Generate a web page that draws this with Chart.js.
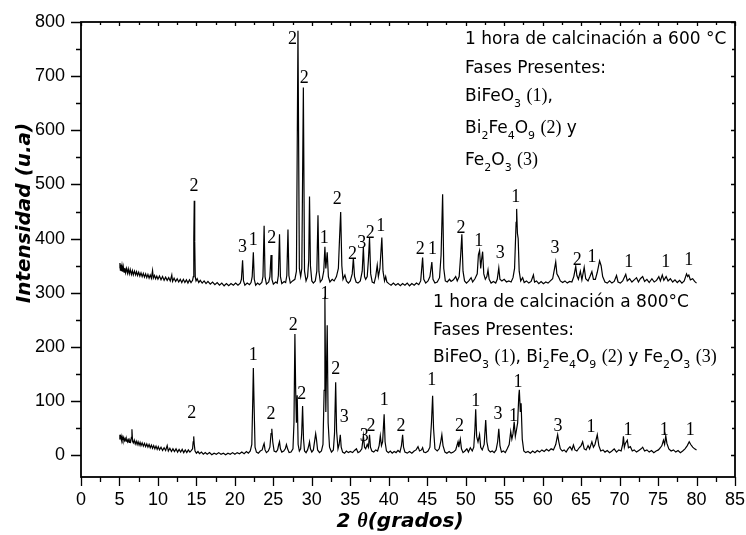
<!DOCTYPE html>
<html>
<head>
<meta charset="utf-8">
<script src="https://cdn.jsdelivr.net/npm/chart.js@4.4.1/dist/chart.umd.min.js"></script>
<style>
  html, body { margin: 0; padding: 0; background: #fff; }
  #wrap { width: 746px; height: 535px; }
</style>
</head>
<body>
<div id="wrap"><canvas id="xrd" width="746" height="535"></canvas></div>
<script>
// Tick values of both axes
const thetaTicks = [0, 5, 10, 15, 20, 25, 30, 35, 40, 45, 50, 55, 60, 65, 70, 75, 80, 85];
const intensityTicks = [0, 100, 200, 300, 400, 500, 600, 700, 800];

// Diffractogram, 1 h calcination at 600 °C: [2θ (deg), intensity (a.u.)]
const scan600 = [
  [5.00,346],[5.06,355],[5.12,342],[5.18,352],[5.25,340],[5.33,350],[5.42,339],[5.50,348],[5.60,338],[5.70,346],
  [5.80,337],[5.92,345],[6.05,336],[6.15,344],[6.28,335],[6.40,343],[6.55,334],[6.68,341],[6.80,333],[6.95,340],
  [7.10,333],[7.22,339],[7.35,332],[7.50,338],[7.65,331],[7.80,337],[7.95,330],[8.10,336],[8.25,329],[8.40,335],
  [8.55,328],[8.70,334],[8.85,327],[9.00,333],[9.15,327],[9.30,341],[9.40,327],[9.55,332],[9.70,326],[9.85,331],
  [10.00,325],[10.20,331],[10.40,324],[10.60,330],[10.80,323],[11.00,329],[11.20,323],[11.40,328],[11.60,322],[11.80,333],
  [11.90,321],[12.10,327],[12.30,321],[12.50,326],[12.70,320],[12.90,325],[13.10,319],[13.30,325],[13.50,319],[13.70,324],
  [13.90,318],[14.10,324],[14.30,319],[14.50,323],[14.60,330],[14.66,400],[14.72,470],[14.78,395],[14.85,330],[14.95,322],
  [15.10,326],[15.30,319],[15.50,323],[15.75,318],[16.00,322],[16.25,317],[16.50,321],[16.80,316],[17.10,320],[17.40,315],
  [17.70,319],[18.00,314],[18.30,318],[18.60,313],[18.90,317],[19.20,313],[19.50,317],[19.80,314],[20.10,318],[20.40,314],
  [20.70,318],[20.85,325],[21.00,360],[21.12,322],[21.30,314],[21.60,318],[21.90,315],[22.10,319],[22.25,330],[22.40,375],
  [22.52,325],[22.70,314],[22.95,318],[23.20,315],[23.50,319],[23.65,330],[23.80,424],[23.92,330],[24.10,316],[24.40,320],
  [24.55,330],[24.70,370],[24.82,325],[25.00,316],[25.30,320],[25.50,318],[25.65,332],[25.80,408],[25.92,330],[26.10,317],
  [26.40,321],[26.60,319],[26.75,332],[26.90,417],[27.02,332],[27.20,318],[27.50,322],[27.80,325],[28.00,340],[28.20,784],
  [28.38,345],[28.55,330],[28.70,345],[28.90,679],[29.05,340],[29.25,322],[29.45,330],[29.60,360],[29.70,478],[29.82,350],
  [30.00,322],[30.20,318],[30.45,322],[30.65,340],[30.80,443],[30.92,340],[31.10,320],[31.35,325],[31.55,340],[31.70,385],
  [31.82,345],[32.00,375],[32.15,330],[32.35,320],[32.65,325],[32.90,322],[33.20,330],[33.45,345],[33.60,400],[33.75,449],
  [33.90,350],[34.05,325],[34.30,333],[34.50,322],[34.75,318],[35.00,322],[35.25,335],[35.40,364],[35.55,330],[35.75,320],
  [36.00,318],[36.30,322],[36.55,340],[36.70,385],[36.85,330],[37.00,325],[37.20,330],[37.35,360],[37.50,401],[37.65,335],
  [37.85,320],[38.10,318],[38.30,330],[38.50,351],[38.65,330],[38.85,345],[39.10,402],[39.25,340],[39.45,322],[39.60,330],
  [39.75,320],[40.00,317],[40.30,314],[40.60,318],[40.90,314],[41.20,317],[41.50,313],[41.80,317],[42.10,314],[42.40,318],
  [42.70,313],[43.00,317],[43.30,314],[43.60,318],[43.90,315],[44.15,322],[44.40,365],[44.55,325],[44.80,318],[45.10,322],
  [45.35,330],[45.60,357],[45.75,325],[46.00,318],[46.30,320],[46.60,328],[46.80,370],[47.00,482],[47.15,345],[47.35,322],
  [47.60,320],[47.90,325],[48.10,321],[48.40,324],[48.70,330],[48.90,322],[49.15,330],[49.35,370],[49.50,408],[49.65,340],
  [49.85,322],[50.10,318],[50.40,322],[50.70,328],[50.90,320],[51.20,326],[51.50,335],[51.65,370],[51.80,378],[51.95,345],
  [52.05,360],[52.20,376],[52.35,335],[52.55,325],[52.75,330],[52.90,342],[53.05,325],[53.30,318],[53.60,321],[53.90,318],
  [54.10,325],[54.30,346],[54.45,325],[54.70,322],[55.00,325],[55.30,320],[55.60,322],[55.90,320],[56.15,328],[56.35,345],
  [56.55,430],[56.62,455],[56.72,410],[56.82,400],[56.95,340],[57.15,322],[57.40,328],[57.60,319],[57.90,322],[58.20,318],
  [58.50,321],[58.80,333],[58.95,320],[59.20,322],[59.50,317],[59.80,321],[60.10,317],[60.40,320],[60.70,318],[61.00,322],
  [61.30,326],[61.55,345],[61.70,357],[61.85,335],[62.05,330],[62.30,322],[62.60,319],[62.90,322],[63.20,318],[63.50,321],
  [63.80,320],[64.05,330],[64.30,349],[64.45,332],[64.65,325],[64.90,340],[65.10,324],[65.40,347],[65.60,326],[65.90,322],
  [66.15,330],[66.40,339],[66.60,325],[66.85,325],[67.10,338],[67.40,359],[67.60,350],[67.80,330],[68.10,320],[68.40,318],
  [68.70,322],[69.00,318],[69.30,321],[69.60,332],[69.80,320],[70.10,318],[70.40,322],[70.80,334],[71.00,322],[71.30,326],
  [71.60,320],[71.90,324],[72.20,328],[72.45,320],[72.70,326],[73.00,330],[73.25,321],[73.55,325],[73.85,319],[74.20,326],
  [74.50,320],[74.80,323],[75.10,330],[75.30,322],[75.55,333],[75.75,323],[76.05,330],[76.30,322],[76.60,326],[76.90,320],
  [77.20,324],[77.50,319],[77.80,323],[78.10,318],[78.40,322],[78.70,335],[78.85,330],[79.00,333],[79.20,324],[79.50,326],
  [79.75,321],[80.00,318]
];

// Diffractogram, 1 h calcination at 800 °C: [2θ (deg), intensity (a.u.)]
const scan800 = [
  [5.00,30],[5.05,38],[5.12,32],[5.20,36],[5.28,29],[5.36,34],[5.45,28],[5.55,33],[5.65,27],[5.75,31],
  [5.85,26],[5.95,30],[6.05,25],[6.15,29],[6.25,24],[6.35,28],[6.45,25],[6.55,33],[6.62,48],[6.70,26],
  [6.80,23],[6.92,28],[7.05,21],[7.18,26],[7.30,20],[7.42,25],[7.55,19],[7.68,24],[7.80,18],[7.95,23],
  [8.10,17],[8.25,22],[8.40,16],[8.55,21],[8.70,15],[8.85,20],[9.00,14],[9.15,19],[9.30,13],[9.45,18],
  [9.60,12],[9.75,17],[9.90,11],[10.05,16],[10.20,10],[10.40,15],[10.60,9],[10.80,14],[11.00,9],[11.20,18],
  [11.35,8],[11.55,13],[11.75,7],[11.95,12],[12.15,7],[12.35,12],[12.55,6],[12.75,11],[12.95,6],[13.15,11],
  [13.35,5],[13.55,10],[13.75,5],[13.95,10],[14.15,6],[14.35,9],[14.50,12],[14.58,25],[14.65,35],[14.72,20],
  [14.82,8],[15.00,4],[15.20,7],[15.40,3],[15.65,6],[15.90,2],[16.15,5],[16.40,2],[16.70,5],[17.00,1],
  [17.30,4],[17.60,2],[17.90,5],[18.20,2],[18.50,4],[18.80,1],[19.10,4],[19.40,2],[19.70,5],[20.00,2],
  [20.30,5],[20.60,3],[20.90,6],[21.20,3],[21.50,7],[21.75,4],[22.00,8],[22.20,20],[22.32,100],[22.40,161],
  [22.50,90],[22.62,15],[22.80,6],[23.05,4],[23.30,8],[23.55,10],[23.70,18],[23.80,22],[23.92,10],[24.10,5],
  [24.35,8],[24.55,15],[24.70,40],[24.80,49],[24.92,25],[25.10,8],[25.35,6],[25.55,10],[25.70,20],[25.80,25],
  [25.92,12],[26.10,6],[26.35,8],[26.55,12],[26.70,20],[26.85,12],[27.05,5],[27.30,6],[27.55,12],[27.68,60],
  [27.80,224],[27.90,120],[28.00,60],[28.10,111],[28.22,20],[28.38,8],[28.55,12],[28.68,40],[28.80,91],[28.92,30],
  [29.05,8],[29.25,5],[29.45,10],[29.60,18],[29.70,25],[29.82,12],[30.00,6],[30.20,10],[30.40,30],[30.50,40],
  [30.60,30],[30.75,10],[31.00,5],[31.25,8],[31.45,20],[31.60,120],[31.70,293],[31.82,80],[31.90,150],[32.00,240],
  [32.12,60],[32.30,15],[32.55,6],[32.80,10],[32.95,40],[33.10,135],[33.22,45],[33.40,12],[33.55,20],[33.70,38],
  [33.82,15],[34.00,6],[34.25,4],[34.50,8],[34.75,5],[35.00,7],[35.30,5],[35.55,9],[35.80,12],[36.00,5],
  [36.25,7],[36.50,12],[36.70,36],[36.85,15],[37.00,12],[37.20,20],[37.35,15],[37.50,38],[37.62,15],[37.80,8],
  [38.05,6],[38.30,10],[38.55,8],[38.75,18],[38.90,36],[39.05,18],[39.20,25],[39.40,76],[39.52,25],[39.70,8],
  [39.95,5],[40.20,8],[40.45,4],[40.70,7],[40.95,5],[41.20,9],[41.45,6],[41.65,18],[41.80,38],[41.92,15],
  [42.10,6],[42.40,4],[42.70,7],[43.00,4],[43.30,8],[43.55,10],[43.80,16],[44.00,8],[44.25,10],[44.40,14],
  [44.55,6],[44.80,5],[45.10,8],[45.35,15],[45.55,60],[45.70,110],[45.82,50],[46.00,12],[46.30,8],[46.55,12],
  [46.75,25],[46.90,38],[47.05,18],[47.30,6],[47.55,4],[47.85,7],[48.10,4],[48.40,6],[48.70,10],[48.90,20],
  [49.00,25],[49.10,15],[49.30,30],[49.45,12],[49.65,5],[49.90,8],[50.15,12],[50.35,6],[50.60,14],[50.85,8],
  [51.05,15],[51.20,50],[51.30,85],[51.42,35],[51.60,25],[51.80,38],[51.95,15],[52.15,10],[52.40,20],[52.60,65],
  [52.75,25],[52.95,10],[53.20,6],[53.45,8],[53.70,5],[53.95,10],[54.15,25],[54.30,49],[54.45,18],[54.65,6],
  [54.90,8],[55.15,5],[55.40,12],[55.65,20],[55.85,44],[56.00,30],[56.15,40],[56.30,62],[56.45,35],[56.60,47],
  [56.75,60],[56.90,110],[56.97,121],[57.10,80],[57.20,96],[57.35,30],[57.55,8],[57.80,5],[58.10,7],[58.40,4],
  [58.70,8],[59.00,5],[59.30,9],[59.60,6],[59.90,10],[60.20,7],[60.50,11],[60.80,8],[61.10,12],[61.40,10],
  [61.70,20],[61.95,38],[62.10,25],[62.30,12],[62.55,8],[62.80,10],[63.05,6],[63.30,12],[63.55,16],[63.80,10],
  [64.00,19],[64.20,10],[64.45,8],[64.75,14],[65.00,18],[65.20,25],[65.40,12],[65.65,10],[65.90,18],[66.10,12],
  [66.40,25],[66.60,15],[66.80,20],[67.10,38],[67.30,18],[67.55,8],[67.85,10],[68.10,6],[68.40,9],[68.70,5],
  [69.00,8],[69.30,12],[69.60,6],[69.90,10],[70.20,8],[70.40,20],[70.50,35],[70.62,15],[70.75,22],[71.00,28],
  [71.15,14],[71.40,16],[71.65,8],[71.90,10],[72.20,6],[72.50,9],[72.80,12],[73.00,15],[73.25,8],[73.55,10],
  [73.85,6],[74.15,9],[74.45,5],[74.75,8],[75.05,10],[75.30,14],[75.50,18],[75.70,28],[75.85,20],[76.00,36],
  [76.15,22],[76.40,12],[76.70,8],[77.00,10],[77.30,6],[77.60,9],[77.90,5],[78.20,8],[78.50,12],[78.80,18],
  [79.05,25],[79.25,20],[79.50,15],[79.75,12],[80.00,10]
];

// Phase markers: [2θ, intensity where the number sits, phase number]
// 1 = BiFeO3, 2 = Bi2Fe4O9, 3 = Fe2O3
const phases600 = [
  [14.7,497,'2'],[21.0,384,'3'],[22.4,397,'1'],[24.8,401,'2'],[27.5,769,'2'],[29.0,697,'2'],
  [31.6,401,'1'],[33.3,472,'2'],[35.3,371,'2'],[36.5,391,'3'],[37.6,410,'2'],[38.95,423,'1'],
  [44.1,381,'2'],[45.7,381,'1'],[49.4,419,'2'],[51.7,395,'1'],[54.5,373,'3'],[56.5,476,'1'],
  [61.6,382,'3'],[64.5,360,'2'],[66.4,366,'1'],[71.2,357,'1'],[76.0,357,'1'],[79.0,360,'1']
];
const phases800 = [
  [14.4,78,'2'],[22.4,185,'1'],[24.7,76,'2'],[27.6,240,'2'],[28.7,113,'2'],[31.7,298,'1'],
  [33.1,158,'2'],[34.2,71,'3'],[36.8,36,'3'],[37.7,54,'2'],[39.4,102,'1'],[41.6,54,'2'],
  [45.6,139,'1'],[49.2,54,'2'],[51.3,100,'1'],[54.2,76,'3'],[56.2,72,'1'],[56.8,135,'1'],
  [62.0,54,'3'],[66.3,51,'1'],[71.1,47,'1'],[75.8,47,'1'],[79.2,47,'1']
];

// Caption blocks: segments [text, kind]; n = normal, s = subscript, r = serif
const caption600 = [
  [['1 hora de calcinación a 600 °C','n']],
  [['Fases Presentes:','n']],
  [['BiFeO','n'],['3','s'],[' ','n'],['(1)','r'],[',','n']],
  [['Bi','n'],['2','s'],['Fe','n'],['4','s'],['O','n'],['9','s'],[' ','n'],['(2)','r'],[' y','n']],
  [['Fe','n'],['2','s'],['O','n'],['3','s'],[' ','n'],['(3)','r']]
];
const caption800 = [
  [['1 hora de calcinación a 800°C','n']],
  [['Fases Presentes:','n']],
  [['BiFeO','n'],['3','s'],[' ','n'],['(1)','r'],[', Bi','n'],['2','s'],['Fe','n'],['4','s'],['O','n'],['9','s'],
   [' ','n'],['(2)','r'],[' y Fe','n'],['2','s'],['O','n'],['3','s'],[' ','n'],['(3)','r']]
];

const SANS = '"DejaVu Sans", Verdana, sans-serif';
const SERIF = '"Liberation Serif", "Times New Roman", serif';

function drawRich(ctx, x, baseline, segs, size) {
  let cx = x;
  for (const [text, kind] of segs) {
    let dy = 0;
    if (kind === 's') { ctx.font = `${Math.round(size * 0.62)}px ${SANS}`; dy = size * 0.36; }
    else if (kind === 'r') { ctx.font = `${Math.round(size * 1.06)}px ${SERIF}`; }
    else { ctx.font = `${size}px ${SANS}`; }
    ctx.fillText(text, cx, baseline + dy);
    cx += ctx.measureText(text).width;
  }
}

// Frame, inward/outward tick marks, phase numbers, captions and axis titles
const decorations = {
  id: 'decorations',
  afterDraw(chart) {
    const ctx = chart.ctx;
    const xs = chart.scales.x, ys = chart.scales.y;
    const { left, right, top, bottom } = chart.chartArea;
    ctx.save();
    ctx.strokeStyle = '#000';
    ctx.fillStyle = '#000';

    // tick marks (major on labelled values, minor halfway)
    ctx.lineWidth = 1.3;
    ctx.beginPath();
    for (let i = 0; i < thetaTicks.length; i++) {
      const t = thetaTicks[i];
      const px = Math.round(xs.getPixelForValue(t)) + 0.5;
      ctx.moveTo(px, bottom); ctx.lineTo(px, bottom + 9);
      ctx.moveTo(px, top); ctx.lineTo(px, top + 4);
      if (i < thetaTicks.length - 1) {
        const pm = Math.round(xs.getPixelForValue((t + thetaTicks[i + 1]) / 2)) + 0.5;
        ctx.moveTo(pm, bottom); ctx.lineTo(pm, bottom + 5);
        ctx.moveTo(pm, top); ctx.lineTo(pm, top + 3);
      }
    }
    for (let i = 0; i < intensityTicks.length; i++) {
      const v = intensityTicks[i];
      const py = Math.round(ys.getPixelForValue(v)) + 0.5;
      ctx.moveTo(left, py); ctx.lineTo(left - 10, py);
      ctx.moveTo(right, py); ctx.lineTo(right - 4, py);
      if (i < intensityTicks.length - 1) {
        const pm = Math.round(ys.getPixelForValue((v + intensityTicks[i + 1]) / 2)) + 0.5;
        ctx.moveTo(left, pm); ctx.lineTo(left - 5, pm);
        ctx.moveTo(right, pm); ctx.lineTo(right - 3, pm);
      }
    }
    ctx.stroke();

    // frame
    ctx.lineWidth = 1.8;
    ctx.strokeRect(left, top, right - left, bottom - top);

    // phase numbers
    ctx.font = `18px ${SERIF}`;
    ctx.textAlign = 'center';
    ctx.textBaseline = 'middle';
    for (const [t, v, p] of [...phases600, ...phases800]) {
      ctx.fillText(p, xs.getPixelForValue(t), ys.getPixelForValue(v));
    }

    // captions
    ctx.textAlign = 'left';
    ctx.textBaseline = 'alphabetic';
    const base600 = [44, 73, 101, 133, 165];
    caption600.forEach((line, i) => drawRich(ctx, 465, base600[i], line, 17));
    const base800 = [307, 335, 362];
    caption800.forEach((line, i) => drawRich(ctx, 433, base800[i], line, 17));

    // axis titles
    ctx.font = `italic bold 20px ${SANS}`;
    ctx.textAlign = 'center';
    ctx.textBaseline = 'middle';
    ctx.save();
    ctx.translate(25, 213);
    ctx.rotate(-Math.PI / 2);
    ctx.fillText('Intensidad (u.a)', 0, 0);
    ctx.restore();

    const parts = [['2 ', `italic bold 20px ${SANS}`], ['θ', `italic bold 20px ${SERIF}`], ['(grados)', `italic bold 20px ${SANS}`]];
    let total = 0;
    for (const [s, f] of parts) { ctx.font = f; total += ctx.measureText(s).width; }
    let cx = 400 - total / 2;
    ctx.textAlign = 'left';
    for (const [s, f] of parts) { ctx.font = f; ctx.fillText(s, cx, 522); cx += ctx.measureText(s).width; }
    ctx.restore();
  }
};

const toPoints = arr => arr.map(([x, y]) => ({ x, y }));

new Chart(document.getElementById('xrd'), {
  type: 'line',
  data: {
    datasets: [
      { label: '600 °C', data: toPoints(scan600), borderColor: '#000', borderWidth: 1.2, pointRadius: 0, tension: 0, fill: false },
      { label: '800 °C', data: toPoints(scan800), borderColor: '#000', borderWidth: 1.2, pointRadius: 0, tension: 0, fill: false }
    ]
  },
  options: {
    responsive: false,
    animation: false,
    devicePixelRatio: 1,
    layout: { padding: { top: 22, right: 0, left: 0, bottom: 0 } },
    plugins: { legend: { display: false }, tooltip: { enabled: false } },
    scales: {
      x: {
        type: 'linear', min: 0, max: 85,
        afterBuildTicks: s => { s.ticks = thetaTicks.map(v => ({ value: v })); },
        afterFit: s => { s.height = 58; s.paddingLeft = 0; s.paddingRight = 11; },
        grid: { display: false }, border: { display: false },
        ticks: { color: '#000', padding: 4, maxRotation: 0, autoSkip: false,
                 font: { family: '"Liberation Sans", Arial, sans-serif', size: 18 } }
      },
      y: {
        type: 'linear', min: -40, max: 800,
        afterBuildTicks: s => { s.ticks = intensityTicks.map(v => ({ value: v })); },
        afterFit: s => { s.width = 81; s.paddingTop = 0; s.paddingBottom = 0; },
        grid: { display: false }, border: { display: false },
        ticks: { color: '#000', padding: 8, autoSkip: false,
                 font: { family: '"Liberation Sans", Arial, sans-serif', size: 18 } }
      }
    }
  },
  plugins: [decorations]
});
</script>
</body>
</html>
